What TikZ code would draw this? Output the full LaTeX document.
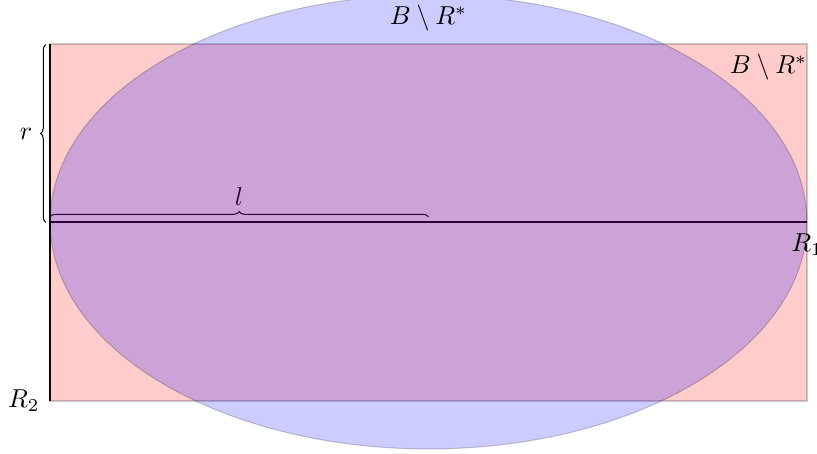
\documentclass[tikz,border=0pt]{standalone}
\usetikzlibrary{decorations.pathreplacing}
\begin{document}
\begin{tikzpicture}[x=0.3855pt,y=-0.3855pt,
  axisline/.style={line width=0.8pt},
  bracestyle/.style={decorate,decoration={brace,amplitude=2.1pt},line width=0.4pt},
  lbl/.style={inner sep=0pt,anchor=base},
  regionR/.style={fill=red,fill opacity=0.2,draw=black,draw opacity=0.2,line width=0.4pt},
  regionB/.style={fill=blue,fill opacity=0.2,draw=black,draw opacity=0.2,line width=0.4pt}]
\clip (0,0) rectangle (817,454);
% named points
\coordinate (O) at (50,222);
\coordinate (E) at (807,222);
\coordinate (T) at (50,44);
\coordinate (S) at (50,401);
\coordinate (SE) at (807,401);
\coordinate (C) at (428.5,222);
\coordinate (rb1) at (46,222.5);
\coordinate (rb2) at (46,44.5);
\coordinate (lb1) at (50,217);
\coordinate (lb2) at (428.5,217);
% lines and braces (under the fills)
\draw[axisline] (O) -- (E);
\draw[axisline] (T) -- (S);
\draw[bracestyle] (lb1) -- (lb2);
\draw[bracestyle] (rb1) -- (rb2);
\node[lbl] (llab) at (239,206) {$l$};
% regions
\path[regionR] (T) rectangle (SE);
\path[regionB] (C) ellipse [x radius=145.9pt, y radius=87.5pt];
% labels
\node[lbl] (rlab) at (26,140) {$r$};
\node[lbl] (topl) at (428.5,25) {$B\setminus R^*$};
\node[lbl] (trl) at (768.5,74) {$B\setminus R^*$};
\node[lbl] (r1) at (807,252) {$R_1$};
\node[lbl,anchor=base east] (r2) at (40,408) {$R_2$};
\end{tikzpicture}
\end{document}
